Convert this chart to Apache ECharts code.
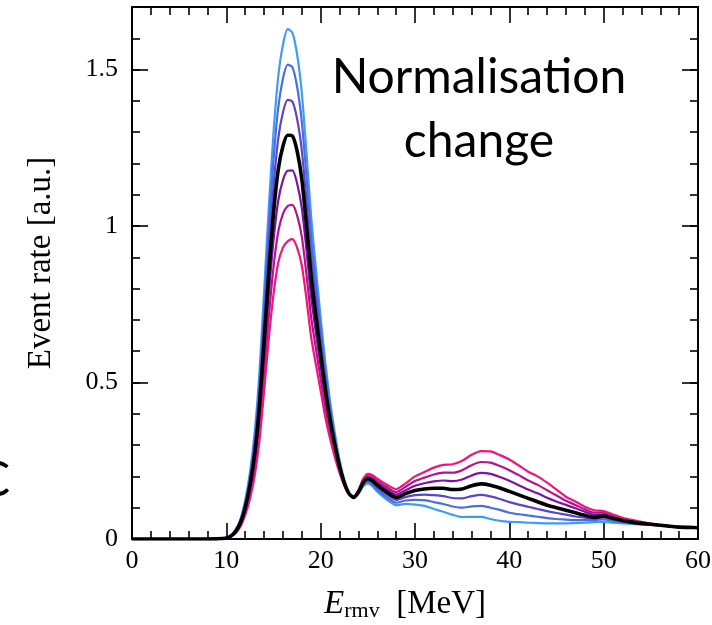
<!DOCTYPE html>
<html>
<head>
<meta charset="utf-8">
<script src="https://cdn.jsdelivr.net/npm/echarts@6/dist/echarts.min.js"></script>
<style>
  html, body { margin: 0; padding: 0; background: #ffffff; }
  #chart { width: 712px; height: 625px; }
</style>
</head>
<body>
<div id="chart"></div>
<script>
// Reconstructed energy [MeV]
const energy = [0, 2, 4, 6, 8, 9,
  10, 10.5, 11, 11.5, 12, 12.5, 13, 13.5, 14, 14.5, 15, 15.5, 16, 16.5, 17, 17.5, 18, 18.5, 19, 19.5,
  20, 20.5, 21, 21.5, 22, 22.5, 23, 23.5, 24, 24.5, 25, 25.5, 26,
  27, 28, 29, 30, 31, 32, 33, 34, 35, 36, 37, 38, 39, 40, 41, 42, 43, 44, 45, 46, 47, 48, 49, 50,
  51, 52, 53, 54, 55, 56, 57, 58, 59, 60];

// Event rate for each normalisation step (strongest first peak -> weakest)
const rateStep1 = [0, 0, 0, 0, 0, 0.0005,
  0.004, 0.012, 0.031, 0.064, 0.124, 0.212, 0.339, 0.528, 0.789, 1.060, 1.298, 1.477, 1.579, 1.629, 1.618, 1.549, 1.426, 1.234, 1.027, 0.863,
  0.707, 0.562, 0.440, 0.339, 0.253, 0.189, 0.147, 0.130, 0.144, 0.168, 0.178, 0.168, 0.151,
  0.126, 0.108, 0.112, 0.110, 0.106, 0.096, 0.087, 0.077, 0.070, 0.071, 0.071, 0.064, 0.058, 0.055, 0.054, 0.052, 0.051, 0.050, 0.050, 0.050, 0.051, 0.052, 0.054, 0.055,
  0.052, 0.050, 0.048, 0.046, 0.045, 0.043, 0.041, 0.038, 0.037, 0.036];

const rateStep2 = [0, 0, 0, 0, 0, 0.0005,
  0.003, 0.012, 0.029, 0.060, 0.116, 0.198, 0.316, 0.492, 0.736, 0.990, 1.212, 1.378, 1.471, 1.516, 1.508, 1.446, 1.334, 1.156, 0.963, 0.812,
  0.668, 0.533, 0.420, 0.326, 0.246, 0.186, 0.146, 0.131, 0.146, 0.172, 0.183, 0.174, 0.158,
  0.134, 0.116, 0.123, 0.125, 0.124, 0.118, 0.112, 0.104, 0.100, 0.104, 0.106, 0.100, 0.093, 0.084, 0.079, 0.075, 0.071, 0.067, 0.064, 0.062, 0.060, 0.060, 0.060, 0.063,
  0.058, 0.054, 0.051, 0.048, 0.046, 0.043, 0.041, 0.038, 0.037, 0.036];

const rateStep3 = [0, 0, 0, 0, 0, 0.0005,
  0.003, 0.011, 0.027, 0.056, 0.108, 0.184, 0.293, 0.456, 0.683, 0.920, 1.126, 1.279, 1.363, 1.403, 1.398, 1.343, 1.242, 1.078, 0.899, 0.761,
  0.629, 0.504, 0.400, 0.313, 0.239, 0.183, 0.146, 0.132, 0.148, 0.176, 0.188, 0.180, 0.165,
  0.142, 0.125, 0.134, 0.140, 0.142, 0.140, 0.137, 0.131, 0.130, 0.137, 0.141, 0.136, 0.128, 0.118, 0.110, 0.103, 0.096, 0.089, 0.083, 0.078, 0.072, 0.068, 0.065, 0.069,
  0.062, 0.057, 0.053, 0.049, 0.046, 0.044, 0.041, 0.038, 0.037, 0.036];

// Nominal prediction
const rateNominal = [0, 0, 0, 0, 0, 0.0005,
  0.003, 0.010, 0.025, 0.052, 0.100, 0.170, 0.270, 0.420, 0.630, 0.850, 1.040, 1.180, 1.255, 1.290, 1.288, 1.240, 1.150, 1.000, 0.835, 0.710,
  0.590, 0.475, 0.380, 0.300, 0.232, 0.180, 0.145, 0.133, 0.150, 0.180, 0.193, 0.186, 0.172,
  0.150, 0.133, 0.145, 0.155, 0.160, 0.162, 0.162, 0.158, 0.160, 0.170, 0.176, 0.172, 0.163, 0.152, 0.141, 0.130, 0.119, 0.108, 0.100, 0.092, 0.084, 0.076, 0.069, 0.074,
  0.066, 0.059, 0.054, 0.050, 0.047, 0.044, 0.041, 0.038, 0.037, 0.036];

const rateStep5 = [0, 0, 0, 0, 0, 0.0005,
  0.003, 0.009, 0.023, 0.048, 0.092, 0.156, 0.247, 0.384, 0.577, 0.780, 0.954, 1.081, 1.147, 1.177, 1.178, 1.137, 1.058, 0.922, 0.771, 0.659,
  0.551, 0.446, 0.360, 0.287, 0.225, 0.177, 0.145, 0.134, 0.152, 0.184, 0.198, 0.192, 0.179,
  0.158, 0.142, 0.156, 0.170, 0.178, 0.184, 0.187, 0.185, 0.190, 0.203, 0.211, 0.208, 0.198, 0.186, 0.172, 0.158, 0.146, 0.132, 0.120, 0.109, 0.098, 0.087, 0.077, 0.079,
  0.070, 0.062, 0.056, 0.052, 0.048, 0.044, 0.041, 0.038, 0.037, 0.036];

const rateStep6 = [0, 0, 0, 0, 0, 0.0005,
  0.003, 0.008, 0.021, 0.044, 0.084, 0.142, 0.224, 0.348, 0.524, 0.710, 0.868, 0.982, 1.039, 1.064, 1.068, 1.034, 0.966, 0.844, 0.707, 0.608,
  0.512, 0.417, 0.340, 0.274, 0.218, 0.174, 0.144, 0.135, 0.154, 0.188, 0.203, 0.198, 0.186,
  0.166, 0.150, 0.167, 0.185, 0.196, 0.206, 0.212, 0.212, 0.220, 0.236, 0.246, 0.244, 0.233, 0.220, 0.204, 0.187, 0.173, 0.156, 0.139, 0.122, 0.109, 0.095, 0.084, 0.084,
  0.074, 0.065, 0.058, 0.053, 0.048, 0.044, 0.041, 0.038, 0.037, 0.036];

const rateStep7 = [0, 0, 0, 0, 0, 0.0005,
  0.002, 0.008, 0.019, 0.040, 0.076, 0.128, 0.201, 0.312, 0.471, 0.640, 0.782, 0.883, 0.931, 0.951, 0.958, 0.931, 0.874, 0.766, 0.643, 0.557,
  0.473, 0.388, 0.320, 0.261, 0.211, 0.171, 0.144, 0.136, 0.156, 0.192, 0.208, 0.204, 0.193,
  0.174, 0.159, 0.178, 0.200, 0.214, 0.228, 0.237, 0.239, 0.250, 0.269, 0.281, 0.280, 0.268, 0.254, 0.235, 0.215, 0.200, 0.180, 0.158, 0.135, 0.120, 0.103, 0.092, 0.089,
  0.078, 0.068, 0.061, 0.055, 0.049, 0.044, 0.041, 0.038, 0.037, 0.036];

const xTicks = [0, 10, 20, 30, 40, 50, 60];
const yTicks = [0, 0.5, 1, 1.5];

const curves = [
  { name: 'step 1', values: rateStep1, color: '#3d9df5', width: 2.2 },
  { name: 'step 2', values: rateStep2, color: '#4a6ee0', width: 2.2 },
  { name: 'step 3', values: rateStep3, color: '#5b45cf', width: 2.2 },
  { name: 'step 5', values: rateStep5, color: '#7e12a8', width: 2.2 },
  { name: 'step 6', values: rateStep6, color: '#b5128f', width: 2.2 },
  { name: 'step 7', values: rateStep7, color: '#f0157d', width: 2.2 },
  { name: 'nominal', values: rateNominal, color: '#000000', width: 3.6 }
];

const serif = "'Liberation Serif', 'DejaVu Serif', serif";
const black = '#000000';

const chart = echarts.init(document.getElementById('chart'), null, { renderer: 'canvas' });

function xAxisDef(position, showLabels) {
  return {
    type: 'value', position: position, min: xTicks[0], max: xTicks[xTicks.length - 1],
    interval: xTicks[1] - xTicks[0],
    axisLine: { show: true, onZero: false, lineStyle: { color: black, width: 2 } },
    axisTick: { show: true, inside: true, length: 16, lineStyle: { color: black, width: 1.6 } },
    minorTick: { show: true, splitNumber: 5, length: 8, lineStyle: { color: black, width: 1.6 } },
    splitLine: { show: false },
    axisLabel: { show: showLabels, color: black, fontFamily: serif, fontSize: 26, margin: 9 }
  };
}

function yAxisDef(position, interval, tickLen, showLabels, showLine) {
  return {
    type: 'value', position: position, min: 0, max: 1.7, interval: interval,
    axisLine: { show: showLine, onZero: false, lineStyle: { color: black, width: 2 } },
    axisTick: { show: true, inside: true, length: tickLen, lineStyle: { color: black, width: 1.6 } },
    splitLine: { show: false },
    axisLabel: {
      show: showLabels, color: black, fontFamily: serif, fontSize: 26, margin: 14,
      showMaxLabel: false, padding: [8, 0, 0, 0],
      formatter: function (v) { return yTicks.indexOf(v) >= 0 ? String(v) : ''; }
    }
  };
}

chart.setOption({
  animation: false,
  backgroundColor: '#ffffff',
  grid: { left: 132, right: 14, top: 7, bottom: 86, containLabel: false, outerBoundsMode: 'none' },
  xAxis: [xAxisDef('bottom', true), xAxisDef('top', false)],
  yAxis: [
    yAxisDef('left', 0.5, 16, true, true),
    yAxisDef('left', 0.1, 8, false, false),
    yAxisDef('right', 0.5, 16, false, true),
    yAxisDef('right', 0.1, 8, false, false)
  ],
  series: curves.map(function (c) {
    return {
      name: c.name, type: 'line', xAxisIndex: 0, yAxisIndex: 0,
      data: energy.map(function (e, i) { return [e, c.values[i]]; }),
      showSymbol: false, smooth: 0.25, clip: true,
      lineStyle: { color: c.color, width: c.width },
      itemStyle: { color: c.color }
    };
  }),
  graphic: [
    {
      type: 'text', x: 41, y: 263, rotation: Math.PI / 2,
      style: { text: 'Event rate [a.u.]', fill: black, font: "33px 'Liberation Serif', serif", align: 'center', verticalAlign: 'middle' }
    },
    {
      type: 'text', x: 405, y: 604,
      style: {
        text: '{e|E}{s|rmv}{n|  [MeV]}',
        align: 'center', verticalAlign: 'middle',
        rich: {
          e: { fontFamily: serif, fontStyle: 'italic', fontSize: 33, fill: black, lineHeight: 40 },
          s: { fontFamily: serif, fontSize: 22, fill: black, lineHeight: 22, padding: [14, 0, 0, 0] },
          n: { fontFamily: serif, fontSize: 33, fill: black, lineHeight: 40 }
        }
      }
    },
    {
      type: 'text', x: 479, y: 78,
      style: { text: 'Normalisation', fill: black, font: "48px Lato, 'Open Sans', sans-serif", align: 'center', verticalAlign: 'middle' }
    },
    {
      type: 'text', x: 479, y: 142,
      style: { text: 'change', fill: black, font: "48px Lato, 'Open Sans', sans-serif", align: 'center', verticalAlign: 'middle' }
    },
    {
      type: 'text', x: -22, y: 481,
      style: { text: 'C', fill: black, font: "48px Lato, 'Open Sans', sans-serif", align: 'left', verticalAlign: 'middle' }
    }
  ]
});
</script>
</body>
</html>
